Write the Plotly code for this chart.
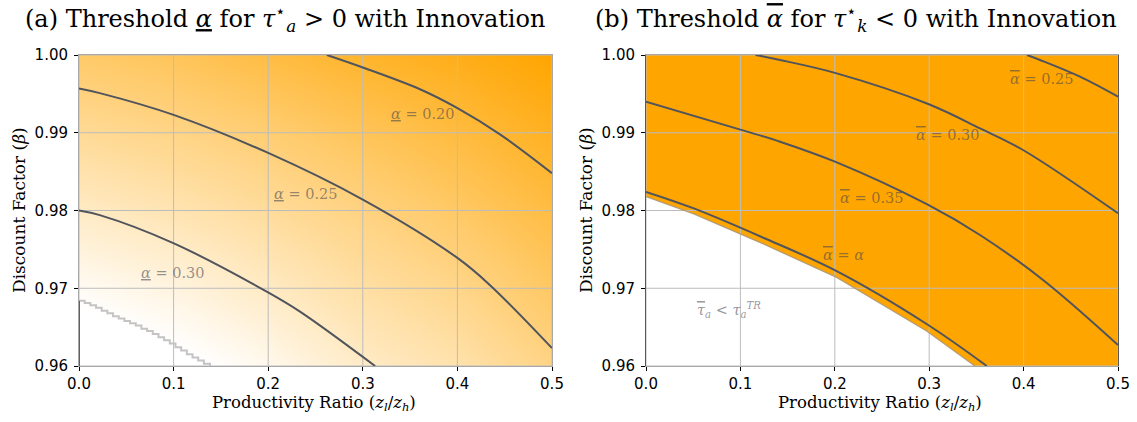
import plotly.graph_objects as go

# ---------------- data ----------------
x_ticks = [0.0, 0.1, 0.2, 0.3, 0.4, 0.5]
y_ticks = [0.96, 0.97, 0.98, 0.99, 1.00]

# Panel (a): lower threshold alpha on a coarse (z_l/z_h, beta) grid
field_x = [0.0, 0.1, 0.2, 0.3, 0.4, 0.5]
field_y = [0.96, 0.97, 0.98, 0.99, 1.00]
alpha_low_field = [
    [0.364, 0.348, 0.327, 0.301, 0.283, 0.255],
    [0.332, 0.318, 0.299, 0.277, 0.259, 0.232],
    [0.300, 0.287, 0.271, 0.253, 0.234, 0.210],
    [0.268, 0.257, 0.243, 0.225, 0.208, 0.187],
    [0.236, 0.226, 0.210, 0.194, 0.181, 0.164],
]

# Panel (a) iso-lines of the lower threshold
a20_x = [0.262, 0.300, 0.3605, 0.3996, 0.445, 0.500]
a20_y = [1.000, 0.9984, 0.9956, 0.9932, 0.9898, 0.9848]
a25_x = [0.000, 0.022, 0.100, 0.200, 0.300, 0.400, 0.4345, 0.500]
a25_y = [0.9957, 0.9951, 0.9923, 0.9874, 0.9814, 0.9739, 0.9704, 0.9623]
a30_x = [0.000, 0.022, 0.0997, 0.198, 0.2336, 0.313]
a30_y = [0.9800, 0.9794, 0.9758, 0.9696, 0.9670, 0.9600]

# Panel (a) edge of the region where the threshold is not defined
mask_a_x = [0.000, 0.006, 0.012, 0.018, 0.024, 0.030, 0.036, 0.042, 0.048, 0.054,
            0.060, 0.066, 0.072, 0.078, 0.084, 0.090, 0.096, 0.102, 0.108, 0.114,
            0.120, 0.126, 0.132, 0.1385]
mask_a_y = [0.9684, 0.9681, 0.9678, 0.9675, 0.9671, 0.9668, 0.9664, 0.9661, 0.9658, 0.9655,
            0.9652, 0.9648, 0.9645, 0.9641, 0.9637, 0.9633, 0.9629, 0.9624, 0.9620, 0.9615,
            0.9611, 0.9607, 0.9603, 0.9600]

# Panel (b) iso-lines of the upper threshold
b25_x = [0.4036, 0.4174, 0.4597, 0.500]
b25_y = [1.000, 0.99936, 0.99721, 0.99464]
b30_x = [0.116, 0.142, 0.2002, 0.299, 0.3538, 0.3994, 0.500]
b30_y = [1.000, 0.99936, 0.99770, 0.99370, 0.99057, 0.98778, 0.97964]
b35_x = [0.000, 0.100, 0.142, 0.2002, 0.299, 0.3538, 0.4206, 0.500]
b35_y = [0.9940, 0.9904, 0.98885, 0.98628, 0.98071, 0.97685, 0.97106, 0.9627]
beq_x = [0.000, 0.050, 0.1243, 0.202, 0.2973, 0.361]
beq_y = [0.9824, 0.9803, 0.9765, 0.9722, 0.9654, 0.9600]

# Panel (b) boundary of the region with tau_k < 0
region_b_x = [0.000, 0.050, 0.1243, 0.202, 0.2973, 0.3485]
region_b_y = [0.9818, 0.9796, 0.9757, 0.9714, 0.9645, 0.9600]

# ---------------- styling ----------------
W, H = 1137, 422
ORANGE = "#FFA500"
LINE = "#50545c"
GRID = "#bcbcbc"
LABEL = "rgba(70,70,80,0.58)"
SERIF = "DejaVu Serif"
SANS = "DejaVu Sans"
XMIN, XMAX = x_ticks[0], x_ticks[-1]
YMIN, YMAX = y_ticks[0], y_ticks[-1]


def px_x(p):
    return p / W


def px_y(p):
    return (H - p) / H


fig = go.Figure()

# ----- panel (a) -----
fig.add_trace(go.Heatmap(
    x=field_x, y=field_y, z=alpha_low_field,
    zmin=0.164, zmax=0.34, zsmooth="best",
    colorscale=[[0, ORANGE], [1, "#FFFFFF"]],
    showscale=False, hoverinfo="skip", xaxis="x", yaxis="y",
))


def grid_trace(xa, ya):
    gx, gy = [], []
    for t in x_ticks:
        gx += [t, t, None]
        gy += [YMIN, YMAX, None]
    for t in y_ticks:
        gx += [XMIN, XMAX, None]
        gy += [t, t, None]
    return go.Scatter(x=gx, y=gy, mode="lines", line=dict(color=GRID, width=1),
                      hoverinfo="skip", showlegend=False, xaxis=xa, yaxis=ya)


fig.add_trace(grid_trace("x", "y"))

fig.add_trace(go.Scatter(x=mask_a_x, y=mask_a_y, mode="lines",
                         line=dict(color="#c4c4c4", width=2, shape="hv"),
                         hoverinfo="skip", showlegend=False, xaxis="x", yaxis="y"))
fig.add_trace(go.Scatter(x=[mask_a_x[0], mask_a_x[0]], y=[YMIN, mask_a_y[0]], mode="lines",
                         line=dict(color="#606060", width=2), cliponaxis=False,
                         hoverinfo="skip", showlegend=False, xaxis="x", yaxis="y"))

for cx, cy in [(a20_x, a20_y), (a25_x, a25_y), (a30_x, a30_y)]:
    fig.add_trace(go.Scatter(x=cx, y=cy, mode="lines",
                             line=dict(color=LINE, width=2, shape="spline", smoothing=1.0),
                             hoverinfo="skip", showlegend=False, xaxis="x", yaxis="y"))

# ----- panel (b) -----
fig.add_trace(go.Scatter(
    x=region_b_x + [XMAX, XMAX, XMIN], y=region_b_y + [YMIN, YMAX, YMAX],
    mode="lines", fill="toself", fillcolor=ORANGE, line=dict(width=0),
    hoverinfo="skip", showlegend=False, xaxis="x2", yaxis="y2"))
fig.add_trace(grid_trace("x2", "y2"))
fig.add_trace(go.Scatter(x=region_b_x, y=region_b_y, mode="lines",
                         line=dict(color="rgba(175,150,110,0.9)", width=1.3),
                         hoverinfo="skip", showlegend=False, xaxis="x2", yaxis="y2"))

for cx, cy in [(b25_x, b25_y), (b30_x, b30_y), (b35_x, b35_y), (beq_x, beq_y)]:
    fig.add_trace(go.Scatter(x=cx, y=cy, mode="lines",
                             line=dict(color=LINE, width=2, shape="spline", smoothing=1.0),
                             hoverinfo="skip", showlegend=False, xaxis="x2", yaxis="y2"))

# ----- axes -----
dom_a = [px_x(79), px_x(552)]
dom_b = [px_x(646), px_x(1118)]
dom_y = [px_y(366), px_y(55)]

tickfont = dict(family=SANS, size=15, color="black")
common_x = dict(range=[XMIN, XMAX], tickvals=x_ticks, tickformat=".1f", showgrid=False,
                zeroline=False, ticks="outside", ticklen=4, tickcolor="black",
                tickfont=tickfont, showline=True, mirror=True, linecolor="#a8a8a8",
                linewidth=1, automargin=False)
common_y = dict(range=[YMIN, YMAX], tickvals=y_ticks, tickformat=".2f", showgrid=False,
                zeroline=False, ticks="outside", ticklen=4, tickcolor="black",
                tickfont=tickfont, showline=True, mirror=True, linewidth=1,
                ticklabelstandoff=3, automargin=False)

fig.update_layout(
    width=W, height=H, margin=dict(l=0, r=0, t=0, b=0, autoexpand=False),
    paper_bgcolor="white", plot_bgcolor="white", showlegend=False,
    xaxis=dict(domain=dom_a, anchor="y", **common_x),
    yaxis=dict(domain=dom_y, anchor="x", linecolor="#a8a8a8", **common_y),
    xaxis2=dict(domain=dom_b, anchor="y2", **common_x),
    yaxis2=dict(domain=dom_y, anchor="x2", linecolor="#585858", **common_y),
)

# ----- text -----
ann = []
ann.append(dict(text="(a) Threshold <u><i>α</i></u> for <i>τ</i><sup>⋆</sup><sub><i>a</i></sub> > 0 with Innovation",
                x=px_x(23), y=px_y(18), xref="paper", yref="paper", xanchor="left", yanchor="middle",
                showarrow=False, font=dict(family=SERIF, size=24, color="black")))
ann.append(dict(text="(b) Threshold <span style='text-decoration:overline'><i>α</i></span> for <i>τ</i><sup>⋆</sup><sub><i>k</i></sub> < 0 with Innovation",
                x=px_x(593), y=px_y(18), xref="paper", yref="paper", xanchor="left", yanchor="middle",
                showarrow=False, font=dict(family=SERIF, size=24, color="black")))

xtitle = "Productivity Ratio (<i>z</i><sub><i>l</i></sub>/<i>z</i><sub><i>h</i></sub>)"
ytitle = "Discount Factor (<i>β</i>)"
for cx, cy in [(314, 403), (880, 403)]:
    ann.append(dict(text=xtitle, x=px_x(cx), y=px_y(cy), xref="paper", yref="paper",
                    xanchor="center", yanchor="middle", showarrow=False,
                    font=dict(family=SERIF, size=16.5, color="black")))
for cx in [19, 586]:
    ann.append(dict(text=ytitle, x=px_x(cx), y=px_y(210), xref="paper", yref="paper",
                    xanchor="center", yanchor="middle", showarrow=False, textangle=-90,
                    font=dict(family=SERIF, size=17, color="black")))

lab_font = dict(family=SERIF, size=14.5, color=LABEL)
ul = "<u><i>α</i></u>"
ol = "<span style='text-decoration:overline'><i>α</i></span>"
labels = [
    ("x", "y", 0.3636, 0.99241, ul + " = 0.20"),
    ("x", "y", 0.2389, 0.98212, ul + " = 0.25"),
    ("x", "y", 0.0988, 0.97196, ul + " = 0.30"),
    ("x2", "y2", 0.4190, 0.99691, ol + " = 0.25"),
    ("x2", "y2", 0.3194, 0.98971, ol + " = 0.30"),
    ("x2", "y2", 0.2389, 0.98157, ol + " = 0.35"),
    ("x2", "y2", 0.2090, 0.97428, ol + " = <i>α</i>"),
    ("x2", "y2", 0.0879, 0.96720,
     "<span style='text-decoration:overline'><i>τ</i></span><sub><i>a</i></sub> < <i>τ</i><sub><i>a</i></sub><sup><i>TR</i></sup>"),
]
for xr, yr, lx, ly, t in labels:
    ann.append(dict(text=t, x=lx, y=ly, xref=xr, yref=yr, xanchor="center", yanchor="middle",
                    showarrow=False, font=lab_font))

fig.update_layout(annotations=ann)
fig.write_html("out.html")
